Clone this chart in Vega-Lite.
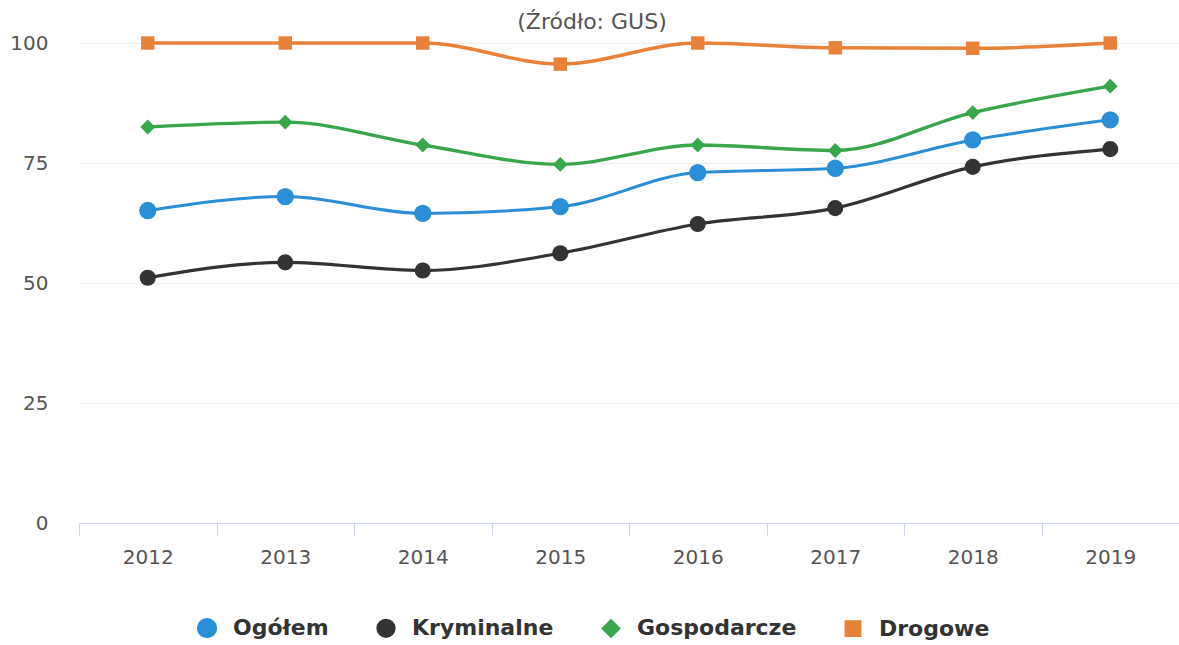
{
  "$schema": "https://vega.github.io/schema/vega-lite/v6.json",
  "width": 1100,
  "height": 480,
  "autosize": {"type": "none"},
  "padding": {"left": 79, "top": 43, "right": 0, "bottom": 122},
  "background": "white",
  "config": {"view": {"stroke": null}},
  "title": {"text": "(Źródło: GUS)", "fontSize": 22, "font": "DejaVu Sans", "fontWeight": "normal", "color": "#555555", "anchor": "middle", "dx": -37, "offset": -1},
  "data": {"values": [
    {"rok": "2012", "seria": "Ogółem", "wartosc": 65.1},
    {"rok": "2013", "seria": "Ogółem", "wartosc": 68.0},
    {"rok": "2014", "seria": "Ogółem", "wartosc": 64.5},
    {"rok": "2015", "seria": "Ogółem", "wartosc": 65.9},
    {"rok": "2016", "seria": "Ogółem", "wartosc": 73.0},
    {"rok": "2017", "seria": "Ogółem", "wartosc": 73.9},
    {"rok": "2018", "seria": "Ogółem", "wartosc": 79.8},
    {"rok": "2019", "seria": "Ogółem", "wartosc": 84.0},
    {"rok": "2012", "seria": "Kryminalne", "wartosc": 51.1},
    {"rok": "2013", "seria": "Kryminalne", "wartosc": 54.3},
    {"rok": "2014", "seria": "Kryminalne", "wartosc": 52.6},
    {"rok": "2015", "seria": "Kryminalne", "wartosc": 56.2},
    {"rok": "2016", "seria": "Kryminalne", "wartosc": 62.3},
    {"rok": "2017", "seria": "Kryminalne", "wartosc": 65.6},
    {"rok": "2018", "seria": "Kryminalne", "wartosc": 74.2},
    {"rok": "2019", "seria": "Kryminalne", "wartosc": 77.9},
    {"rok": "2012", "seria": "Gospodarcze", "wartosc": 82.5},
    {"rok": "2013", "seria": "Gospodarcze", "wartosc": 83.5},
    {"rok": "2014", "seria": "Gospodarcze", "wartosc": 78.75},
    {"rok": "2015", "seria": "Gospodarcze", "wartosc": 74.7},
    {"rok": "2016", "seria": "Gospodarcze", "wartosc": 78.75},
    {"rok": "2017", "seria": "Gospodarcze", "wartosc": 77.6},
    {"rok": "2018", "seria": "Gospodarcze", "wartosc": 85.5},
    {"rok": "2019", "seria": "Gospodarcze", "wartosc": 91.0},
    {"rok": "2012", "seria": "Drogowe", "wartosc": 100},
    {"rok": "2013", "seria": "Drogowe", "wartosc": 100},
    {"rok": "2014", "seria": "Drogowe", "wartosc": 100},
    {"rok": "2015", "seria": "Drogowe", "wartosc": 95.6},
    {"rok": "2016", "seria": "Drogowe", "wartosc": 100},
    {"rok": "2017", "seria": "Drogowe", "wartosc": 99.0},
    {"rok": "2018", "seria": "Drogowe", "wartosc": 98.9},
    {"rok": "2019", "seria": "Drogowe", "wartosc": 100}
  ]},
  "encoding": {
    "x": {
      "field": "rok", "type": "ordinal",
      "scale": {"type": "band", "paddingInner": 0, "paddingOuter": 0},
      "axis": {
        "title": null, "labelAngle": 0, "tickBand": "extent",
        "domainColor": "#ccd6eb", "tickColor": "#ccd6eb", "tickSize": 12,
        "labelFont": "DejaVu Sans", "labelFontSize": 20, "labelColor": "#555555",
        "labelPadding": 12, "grid": false
      }
    },
    "y": {
      "field": "wartosc", "type": "quantitative",
      "scale": {"domain": [0, 100], "nice": false, "zero": true},
      "axis": {
        "title": null, "values": [0, 25, 50, 75, 100], "domain": false, "ticks": false,
        "gridColor": "#eeeeee", "gridWidth": 1,
        "labelFont": "DejaVu Sans", "labelFontSize": 20, "labelColor": "#555555",
        "labelPadding": 31
      }
    },
    "color": {
      "field": "seria", "type": "nominal",
      "scale": {"domain": ["Ogółem", "Kryminalne", "Gospodarcze", "Drogowe"], "range": ["#2a8fd6", "#333333", "#3aa64c", "#e8823a"]},
      "legend": {
        "title": null, "orient": "none", "legendX": 117, "legendY": 574, "direction": "horizontal",
        "labelFont": "DejaVu Sans", "labelFontSize": 22, "labelFontWeight": "bold", "labelColor": "#333333",
        "labelOffset": 15, "columnPadding": 42, "symbolOpacity": 1, "symbolStrokeWidth": 0
      }
    }
  },
  "layer": [
    {
      "mark": {"type": "line", "interpolate": "monotone"},
      "encoding": {
        "strokeWidth": {
          "field": "seria", "type": "nominal",
          "scale": {"domain": ["Ogółem", "Kryminalne", "Gospodarcze", "Drogowe"], "range": [3, 3.5, 3, 2]},
          "legend": null
        }
      }
    },
    {
      "mark": {"type": "point", "filled": true, "opacity": 1},
      "encoding": {
        "shape": {
          "field": "seria", "type": "nominal",
          "scale": {"domain": ["Ogółem", "Kryminalne", "Gospodarcze", "Drogowe"], "range": ["circle", "circle", "diamond", "square"]}
        },
        "size": {
          "field": "seria", "type": "nominal",
          "scale": {"domain": ["Ogółem", "Kryminalne", "Gospodarcze", "Drogowe"], "range": [300, 180, 130, 240]}
        }
      }
    }
  ]
}
